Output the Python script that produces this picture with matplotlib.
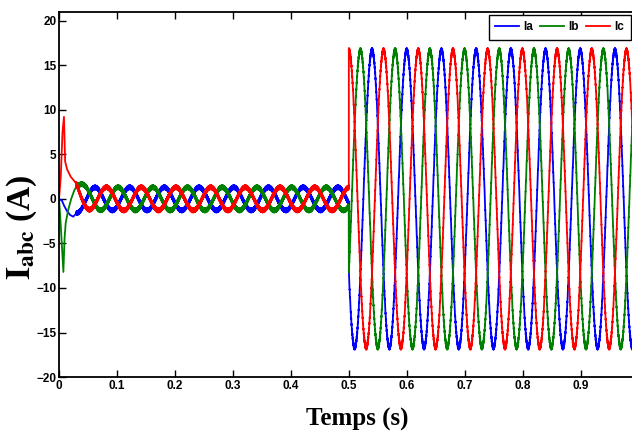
import numpy as np
import matplotlib.pyplot as plt

# values
phases = ["Ia", "Ib", "Ic"]
colors = ["#0000ff", "#008000", "#ff0000"]
freq = 16.7                  # Hz, same before and after the step
t_step = 0.5                 # load step (s)
amp_before = 1.3             # A
amp_after = 16.7             # A
peak_before = [0.062, 0.042, 0.022]   # time of a peak, per phase (s)
peak_after = [0.5 + 0.04, 0.5 + 0.02, 0.5]
ripple_amp = 0.22            # switching ripple seen on the traces
ripple_freq = 1500.0

# start-up transient points (t, i)
trans_t = {
    "Ia": [0, 0.005, 0.009, 0.014, 0.019, 0.0245, 0.03],
    "Ib": [0, 0.003, 0.0075, 0.0095, 0.0115, 0.016, 0.021, 0.026, 0.03],
    "Ic": [0, 0.003, 0.006, 0.0085, 0.0105, 0.014, 0.02, 0.025, 0.03],
}
trans_i = {
    "Ia": [0, -0.2, -0.8, -1.4, -1.8, -2.0, -1.6],
    "Ib": [0, -3.0, -8.2, -4.5, -2.7, -1.2, 0.0, 0.9, 1.4],
    "Ic": [0, 2.5, 7.5, 9.2, 4.2, 3.3, 2.5, 2.1, 1.7],
}
t_end_trans = 0.03
tau_offset = 0.01

plt.rcParams["mathtext.fontset"] = "stix"

fig = plt.figure(figsize=(6.32, 4.38), dpi=100)
ax = fig.add_axes([0.0934, 0.139, 1.0105 - 0.0934, 0.9733 - 0.139])

t = np.arange(t_end_trans, 1.0, 1.0 / 40000)
w = 2 * np.pi * freq
for k, name in enumerate(phases):
    before = amp_before * np.cos(w * (t - peak_before[k]))
    s0 = amp_before * np.cos(w * (t_end_trans - peak_before[k]))
    off = (trans_i[name][-1] - s0) * np.exp(-(t - t_end_trans) / tau_offset)
    after = amp_after * np.cos(w * (t - peak_after[k]))
    i = np.where(t < t_step, before + off, after)
    i = i + ripple_amp * np.sin(2 * np.pi * ripple_freq * t + k)
    tt = np.concatenate([trans_t[name], t])
    ii = np.concatenate([trans_i[name], i])
    ax.plot(tt, ii, color=colors[k], lw=1.3, label=name)

ax.set_xlim(0, 1.0)
ax.set_ylim(-20, 21)
ax.set_xticks(np.arange(0, 1.0, 0.1))
ax.set_xticklabels(["0", "0.1", "0.2", "0.3", "0.4", "0.5", "0.6", "0.7", "0.8", "0.9"])
ax.set_yticks(np.arange(-20, 21, 5))
ax.tick_params(direction="in", top=True, right=True, length=5, width=1,
               labelsize=8.5, pad=2)
for lab in ax.get_xticklabels() + ax.get_yticklabels():
    lab.set_fontweight("bold")
    lab.set_family("Liberation Sans")
for sp in ax.spines.values():
    sp.set_linewidth(1.3)

ax.set_ylabel(r"$\mathbf{I_{abc}}$" + " (A)", family="Liberation Serif",
              fontweight="bold", fontsize=24)
ax.yaxis.set_label_coords(-0.034, 0.41)
ax.set_xlabel("Temps (s)", family="Liberation Serif", fontweight="bold",
              fontsize=18)
ax.xaxis.set_label_coords((357 - 59) / (638.6 - 59), -0.085)

leg = fig.legend(loc="upper right", bbox_to_anchor=(631 / 632, 1 - 15 / 438),
                 ncol=3, fancybox=False, edgecolor="black", framealpha=1,
                 prop={"family": "Liberation Sans", "weight": "bold", "size": 8.5},
                 handlelength=2.0, columnspacing=0.6, handletextpad=0.4,
                 borderpad=0.55, borderaxespad=0)
leg.get_frame().set_linewidth(1.0)

fig.savefig("out.png", dpi=100)
